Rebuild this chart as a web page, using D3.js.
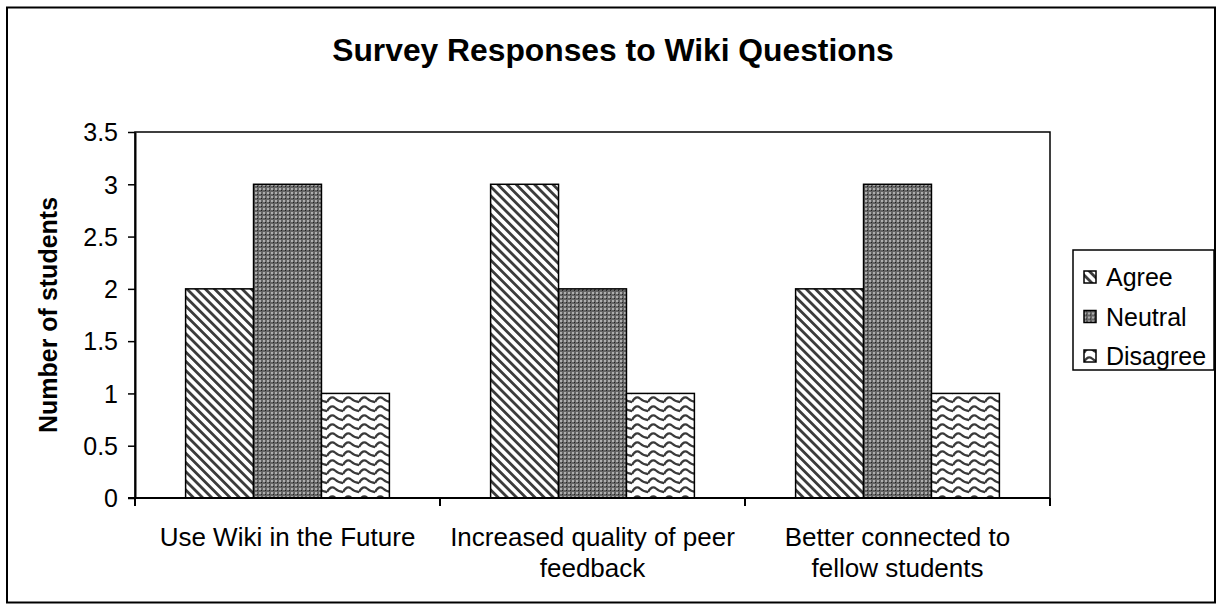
<!DOCTYPE html>
<html>
<head>
<meta charset="utf-8">
<script src="https://cdn.jsdelivr.net/npm/d3@7"></script>
<style>
  body { margin: 0; background: #fff; }
  svg { display: block; font-family: "Liberation Sans", Arial, sans-serif; }
</style>
</head>
<body>
<svg id="chart" width="1222" height="609"></svg>
<script>
// Survey data
const categories = [
  ["Use Wiki in the Future"],
  ["Increased quality of peer", "feedback"],
  ["Better connected to", "fellow students"]
];
const seriesNames = ["Agree", "Neutral", "Disagree"];
const agree = [2, 3, 2];
const neutral = [3, 2, 3];
const disagree = [1, 1, 1];
const yTicks = [0, 0.5, 1, 1.5, 2, 2.5, 3, 3.5];

const seriesValues = [agree, neutral, disagree];

const svg = d3.select("#chart");
const plot = { left: 135, right: 1050, top: 132, bottom: 498 };
const FONT = "Liberation Sans, Arial, sans-serif";

// Fill patterns
const defs = svg.append("defs");

// diagonal stripes for Agree (top-left to bottom-right)
const pDiag = defs.append("pattern").attr("id", "p-agree")
  .attr("patternUnits", "userSpaceOnUse").attr("width", 6.5).attr("height", 6.5)
  .attr("patternTransform", "rotate(-45)");
pDiag.append("rect").attr("width", 6.5).attr("height", 6.5).attr("fill", "#fff");
pDiag.append("rect").attr("x", 0).attr("width", 2.8).attr("height", 6.5).attr("fill", "#3c3c3c");

// dense checker for Neutral
const pChk = defs.append("pattern").attr("id", "p-neutral")
  .attr("patternUnits", "userSpaceOnUse").attr("width", 4).attr("height", 4);
pChk.append("rect").attr("width", 4).attr("height", 4).attr("fill", "#646464");
pChk.append("rect").attr("x", 0).attr("y", 0).attr("width", 2).attr("height", 2).attr("fill", "#aeaeae");
pChk.append("rect").attr("x", 2).attr("y", 2).attr("width", 1).attr("height", 1).attr("fill", "#222");

// waves for Disagree
const pWave = defs.append("pattern").attr("id", "p-disagree")
  .attr("patternUnits", "userSpaceOnUse").attr("width", 16).attr("height", 9);
pWave.append("rect").attr("width", 16).attr("height", 9).attr("fill", "#fff");
[-9, 0, 9].forEach(off => {
  pWave.append("path")
    .attr("d", `M0,${off + 6} Q4,${off - 1} 8,${off + 2.5} T16,${off + 6}`)
    .attr("fill", "none").attr("stroke", "#3a3a3a").attr("stroke-width", 2.3);
});

const fills = ["url(#p-agree)", "url(#p-neutral)", "url(#p-disagree)"];

// outer frame
svg.append("rect").attr("x", 7).attr("y", 7.5).attr("width", 1208).attr("height", 595)
  .attr("fill", "none").attr("stroke", "#000").attr("stroke-width", 2);

// title
svg.append("text").attr("x", 613).attr("y", 61).attr("text-anchor", "middle")
  .style("font-size", "31.8px").attr("font-weight", "bold").text("Survey Responses to Wiki Questions");

// scales
const x0 = d3.scaleBand().domain(d3.range(categories.length))
  .range([plot.left, plot.right]).paddingInner(0).paddingOuter(0);
const x1 = d3.scaleBand().domain(d3.range(seriesNames.length))
  .range([0, x0.bandwidth()]).paddingOuter(0.745).paddingInner(0);
const y = d3.scaleLinear().domain([0, 3.5]).range([plot.bottom, plot.top]);

// plot area box
svg.append("rect").attr("x", plot.left).attr("y", plot.top)
  .attr("width", plot.right - plot.left).attr("height", plot.bottom - plot.top)
  .attr("fill", "none").attr("stroke", "#000").attr("stroke-width", 1.5);

// bars
const groups = svg.append("g").selectAll("g").data(categories).join("g")
  .attr("transform", (d, i) => `translate(${x0(i)},0)`);
groups.selectAll("rect")
  .data((d, i) => seriesValues.map((s, k) => ({ k, v: s[i] })))
  .join("rect")
  .attr("x", d => x1(d.k))
  .attr("y", d => y(d.v))
  .attr("width", x1.bandwidth())
  .attr("height", d => y(0) - y(d.v))
  .attr("fill", d => fills[d.k])
  .attr("stroke", "#000").attr("stroke-width", 1.5);

// y axis
const yAxis = d3.axisLeft(y).tickValues(yTicks).tickSize(7).tickSizeOuter(0)
  .tickFormat(d => String(d));
const gy = svg.append("g").attr("transform", `translate(${plot.left},0)`).call(yAxis);
gy.attr("font-size", null).attr("font-family", null);
gy.select(".domain").attr("stroke-width", 2);
gy.selectAll(".tick line").attr("stroke-width", 1.5);
gy.selectAll(".tick text").style("font-size", "25px").style("font-family", FONT)
  .attr("fill", "#000").attr("x", -17).attr("dy", "0.35em");

// x axis
const tickPos = d3.range(categories.length + 1).map(i => plot.left + i * x0.bandwidth());
svg.append("line").attr("x1", plot.left - 7).attr("x2", plot.right)
  .attr("y1", plot.bottom).attr("y2", plot.bottom).attr("stroke", "#000").attr("stroke-width", 2);
svg.append("g").selectAll("line").data(tickPos).join("line")
  .attr("x1", d => d).attr("x2", d => d).attr("y1", plot.bottom).attr("y2", plot.bottom + 8)
  .attr("stroke", "#000").attr("stroke-width", 2);

// category labels
svg.append("g").selectAll("text").data(categories).join("text")
  .attr("x", (d, i) => x0(i) + x0.bandwidth() / 2)
  .attr("y", 546)
  .attr("text-anchor", "middle").style("font-size", "26px")
  .each(function (d) {
    const cx = d3.select(this).attr("x");
    d3.select(this).selectAll("tspan").data(d).join("tspan")
      .attr("x", cx)
      .attr("dy", (t, j) => j === 0 ? 0 : 31)
      .text(t => t);
  });

// y axis title
svg.append("text").attr("transform", `translate(57,${(plot.top + plot.bottom) / 2}) rotate(-90)`)
  .attr("text-anchor", "middle").style("font-size", "25px").attr("font-weight", "bold")
  .text("Number of students");

// legend
const lg = svg.append("g");
lg.append("rect").attr("x", 1073).attr("y", 250).attr("width", 141).attr("height", 120)
  .attr("fill", "#fff").attr("stroke", "#000").attr("stroke-width", 1.5);
const items = lg.selectAll("g").data(seriesNames).join("g")
  .attr("transform", (d, i) => `translate(1084,${277 + i * 39.5})`);
items.append("rect").attr("x", 0).attr("y", -6).attr("width", 12).attr("height", 12)
  .attr("fill", (d, i) => fills[i]).attr("stroke", "#000").attr("stroke-width", 1.5);
items.append("text").attr("x", 22).attr("y", 9).style("font-size", "25px").text(d => d);
</script>
</body>
</html>
